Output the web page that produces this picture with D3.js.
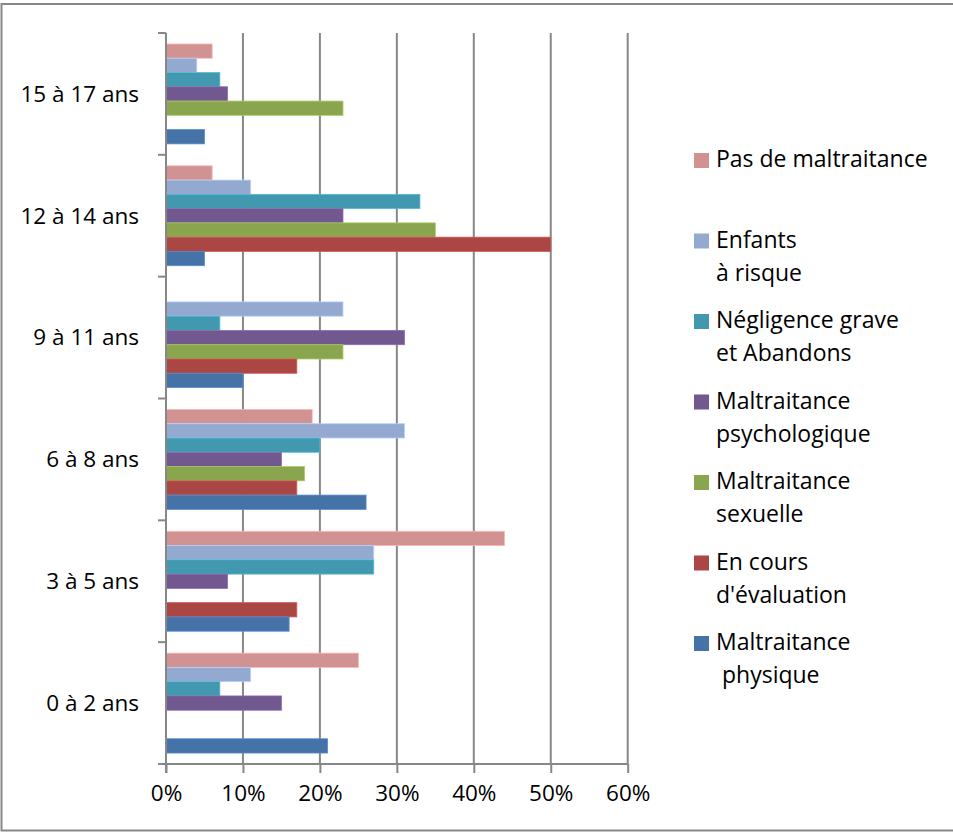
<!DOCTYPE html>
<html>
<head>
<meta charset="utf-8">
<script src="https://cdn.jsdelivr.net/npm/d3@7/dist/d3.min.js"></script>
<style>
  html, body { margin: 0; padding: 0; background: #fff; }
  svg { display: block; }
  text { font-family: "Open Sans", "Liberation Sans", sans-serif; fill: #000; }
</style>
</head>
<body>
<svg id="chart" width="953" height="832"></svg>
<script>
// Age groups, top to bottom
const ageGroups = ["15 à 17 ans", "12 à 14 ans", "9 à 11 ans", "6 à 8 ans", "3 à 5 ans", "0 à 2 ans"];

// Series in legend order (top of legend first); within each group the
// first series sits at the top of the band.
const seriesNames = [
  ["Pas de maltraitance"],
  ["Enfants", "à risque"],
  ["Négligence grave", "et Abandons"],
  ["Maltraitance", "psychologique"],
  ["Maltraitance", "sexuelle"],
  ["En cours", "d'évaluation"],
  ["Maltraitance", " physique"]
];
const seriesColors = ["#D19392", "#93A9CF", "#4198AF", "#71588F", "#89A54E", "#AA4643", "#4572A7"];

// Percentages per series, following ageGroups order
const pasDeMaltraitance       = [6, 6, 0, 19, 44, 25];
const enfantsARisque          = [4, 11, 23, 31, 27, 11];
const negligenceGrave         = [7, 33, 7, 20, 27, 7];
const maltraitancePsycho      = [8, 23, 31, 15, 8, 15];
const maltraitanceSexuelle    = [23, 35, 23, 18, 0, 0];
const enCoursEvaluation       = [0, 50, 17, 17, 17, 0];
const maltraitancePhysique    = [5, 5, 10, 26, 16, 21];

const seriesValues = [pasDeMaltraitance, enfantsARisque, negligenceGrave,
  maltraitancePsycho, maltraitanceSexuelle, enCoursEvaluation, maltraitancePhysique];

const xTicks = [0, 10, 20, 30, 40, 50, 60];

const svg = d3.select("#chart");
const plot = { left: 166, right: 627.7, top: 33, bottom: 764 };
const grey = "#878787";
const axisFont = 22.5;
const legendFont = 23;

// outer frame
svg.append("rect")
  .attr("x", 1.5).attr("y", 4).attr("width", 960).attr("height", 826.5)
  .attr("fill", "none").attr("stroke", grey).attr("stroke-width", 2);

const x = d3.scaleLinear().domain([0, 60]).range([plot.left, plot.right]);
const y = d3.scaleBand().domain(ageGroups).range([plot.top, plot.bottom])
  .paddingInner(0.18).paddingOuter(0.09);
const inner = d3.scaleBand().domain(d3.range(seriesNames.length)).range([0, y.bandwidth()]);

// vertical gridlines
svg.append("g").selectAll("line").data(xTicks.slice(1)).join("line")
  .attr("x1", d => x(d)).attr("x2", d => x(d))
  .attr("y1", plot.top).attr("y2", plot.bottom)
  .attr("stroke", grey).attr("stroke-width", 2);

// bars
const groups = svg.append("g").selectAll("g").data(ageGroups).join("g")
  .attr("transform", d => `translate(0,${y(d)})`);
groups.each(function(age, gi) {
  d3.select(this).selectAll("rect")
    .data(seriesValues.map((vals, si) => ({ si, v: vals[gi] })).filter(d => d.v > 0))
    .join("rect")
    .attr("x", x(0))
    .attr("y", d => inner(d.si))
    .attr("width", d => x(d.v) - x(0))
    .attr("height", inner.bandwidth())
    .attr("fill", d => seriesColors[d.si])
    .attr("stroke", d => d3.color(seriesColors[d.si]).brighter(0.6))
    .attr("stroke-width", 0.8);
});

// x axis
const xAxis = d3.axisBottom(x).tickValues(xTicks).tickFormat(d => d + "%")
  .tickSize(9).tickPadding(12);
const gx = svg.append("g").attr("transform", `translate(0,${plot.bottom})`).call(xAxis);
gx.select(".domain").remove();
gx.append("line").attr("x1", 158).attr("x2", plot.right).attr("y1", 0).attr("y2", 0)
  .attr("stroke", grey).attr("stroke-width", 2);
gx.selectAll(".tick line").attr("stroke", grey).attr("stroke-width", 2);
gx.selectAll(".tick text").attr("font-size", axisFont).attr("fill", "#000")
  .style("font-family", "'Open Sans', 'Liberation Sans', sans-serif");

// y axis with category tick marks at band boundaries
const boundaries = d3.range(ageGroups.length + 1).map(i => plot.top + i * (plot.bottom - plot.top) / ageGroups.length);
const gy = svg.append("g");
gy.append("line").attr("x1", plot.left).attr("x2", plot.left)
  .attr("y1", plot.top).attr("y2", plot.bottom + 9)
  .attr("stroke", grey).attr("stroke-width", 2);
gy.selectAll("line.tk").data(boundaries).join("line").attr("class", "tk")
  .attr("x1", 158).attr("x2", plot.left).attr("y1", d => d).attr("y2", d => d)
  .attr("stroke", grey).attr("stroke-width", 2);
gy.selectAll("text").data(ageGroups).join("text")
  .attr("x", 139).attr("y", d => y(d) + y.bandwidth() / 2)
  .attr("dy", "0.35em").attr("text-anchor", "end").attr("font-size", axisFont)
  .text(d => d);

// legend
const legend = svg.append("g");
const legendTop = 167, legendStep = 80.5, lineGap = 33;
seriesNames.forEach((lines, i) => {
  const by = legendTop + i * legendStep;
  legend.append("rect").attr("x", 694).attr("y", by - 14).attr("width", 15).attr("height", 15)
    .attr("fill", seriesColors[i]);
  const t = legend.append("text").attr("x", 716).attr("y", by).attr("font-size", legendFont)
    .style("white-space", "pre");
  lines.forEach((ln, li) => {
    t.append("tspan").attr("x", 716).attr("y", by + li * lineGap).text(ln);
  });
});
</script>
</body>
</html>
